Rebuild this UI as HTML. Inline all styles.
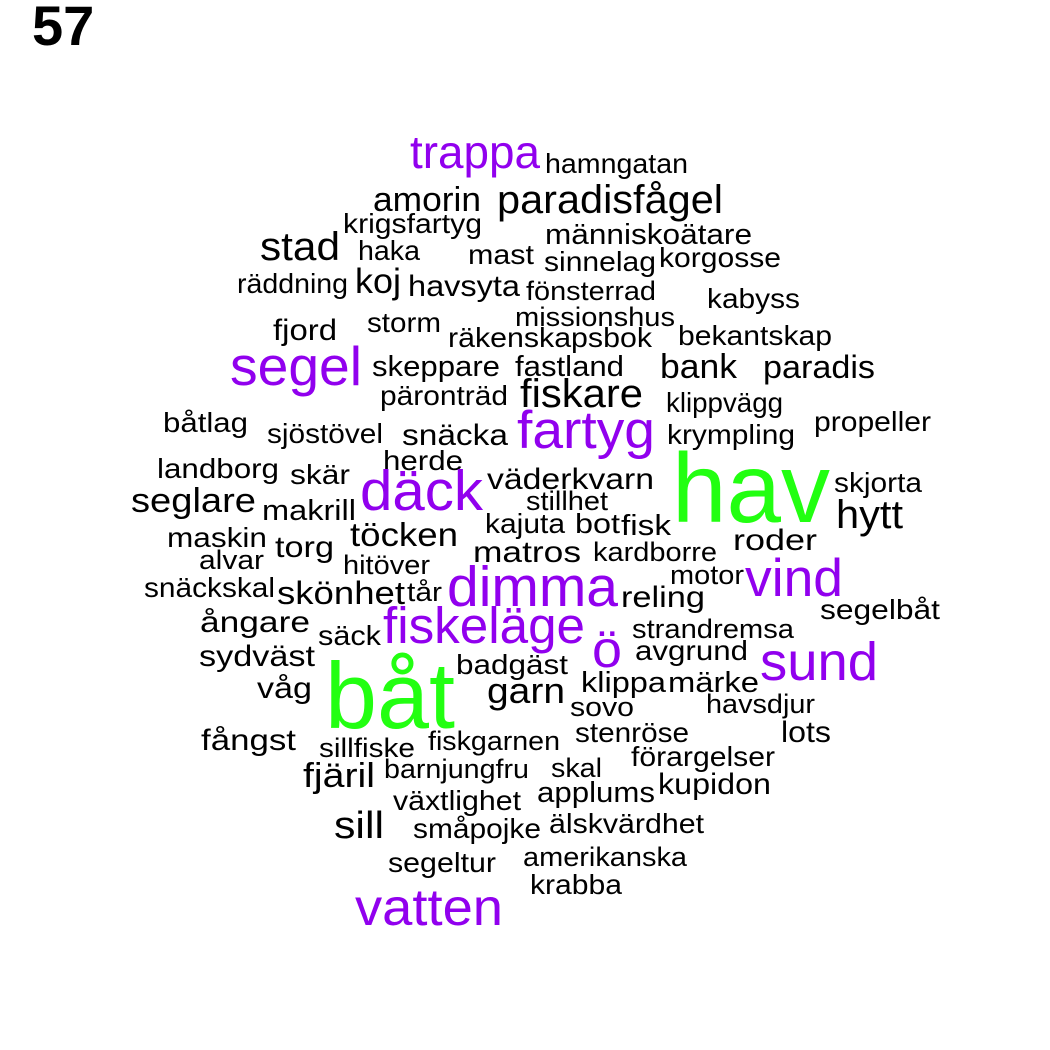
<!DOCTYPE html>
<html><head><meta charset="utf-8"><style>
html,body{margin:0;padding:0;background:#fff;}
svg{display:block;}
text{font-family:"Liberation Sans",Arial,sans-serif;fill:#000;}
.p{fill:#9100ee;}
.g{fill:#22ff11;}
</style></head><body>
<svg width="1050" height="1050" viewBox="0 0 1050 1050" xmlns="http://www.w3.org/2000/svg">
<text x="32" y="45" font-size="56" font-weight="bold">57</text>
<g>
<text class="p" x="410" y="168" font-size="46" textLength="130" lengthAdjust="spacingAndGlyphs">trappa</text>
<text x="545" y="173" font-size="28" textLength="143" lengthAdjust="spacingAndGlyphs">hamngatan</text>
<text x="373" y="211" font-size="34" textLength="108" lengthAdjust="spacingAndGlyphs">amorin</text>
<text x="497" y="213" font-size="40" textLength="226" lengthAdjust="spacingAndGlyphs">paradisfågel</text>
<text x="343" y="233" font-size="28" textLength="139" lengthAdjust="spacingAndGlyphs">krigsfartyg</text>
<text x="545" y="244" font-size="29" textLength="207" lengthAdjust="spacingAndGlyphs">människoätare</text>
<text x="260" y="260" font-size="40" textLength="80" lengthAdjust="spacingAndGlyphs">stad</text>
<text x="358" y="260" font-size="28" textLength="62" lengthAdjust="spacingAndGlyphs">haka</text>
<text x="468" y="264" font-size="28" textLength="66" lengthAdjust="spacingAndGlyphs">mast</text>
<text x="544" y="271" font-size="28" textLength="112" lengthAdjust="spacingAndGlyphs">sinnelag</text>
<text x="659" y="267" font-size="28" textLength="122" lengthAdjust="spacingAndGlyphs">korgosse</text>
<text x="237" y="293" font-size="28" textLength="111" lengthAdjust="spacingAndGlyphs">räddning</text>
<text x="355" y="293" font-size="35" textLength="46" lengthAdjust="spacingAndGlyphs">koj</text>
<text x="408" y="296" font-size="30" textLength="112" lengthAdjust="spacingAndGlyphs">havsyta</text>
<text x="526" y="300" font-size="27" textLength="130" lengthAdjust="spacingAndGlyphs">fönsterrad</text>
<text x="707" y="308" font-size="28" textLength="93" lengthAdjust="spacingAndGlyphs">kabyss</text>
<text x="515" y="326" font-size="27" textLength="160" lengthAdjust="spacingAndGlyphs">missionshus</text>
<text x="273" y="340" font-size="30" textLength="64" lengthAdjust="spacingAndGlyphs">fjord</text>
<text x="367" y="332" font-size="28" textLength="74" lengthAdjust="spacingAndGlyphs">storm</text>
<text x="448" y="347" font-size="28" textLength="204" lengthAdjust="spacingAndGlyphs">räkenskapsbok</text>
<text x="678" y="345" font-size="28" textLength="154" lengthAdjust="spacingAndGlyphs">bekantskap</text>
<text class="p" x="230" y="385" font-size="55" textLength="132" lengthAdjust="spacingAndGlyphs">segel</text>
<text x="372" y="376" font-size="29" textLength="128" lengthAdjust="spacingAndGlyphs">skeppare</text>
<text x="515" y="376" font-size="29" textLength="109" lengthAdjust="spacingAndGlyphs">fastland</text>
<text x="660" y="378" font-size="34" textLength="77" lengthAdjust="spacingAndGlyphs">bank</text>
<text x="763" y="378" font-size="32" textLength="112" lengthAdjust="spacingAndGlyphs">paradis</text>
<text x="380" y="405" font-size="28" textLength="128" lengthAdjust="spacingAndGlyphs">päronträd</text>
<text x="520" y="407" font-size="40" textLength="123" lengthAdjust="spacingAndGlyphs">fiskare</text>
<text x="666" y="412" font-size="28" textLength="117" lengthAdjust="spacingAndGlyphs">klippvägg</text>
<text x="163" y="432" font-size="28" textLength="85" lengthAdjust="spacingAndGlyphs">båtlag</text>
<text x="267" y="443" font-size="28" textLength="116" lengthAdjust="spacingAndGlyphs">sjöstövel</text>
<text x="402" y="445" font-size="30" textLength="106" lengthAdjust="spacingAndGlyphs">snäcka</text>
<text class="p" x="517" y="448" font-size="53" textLength="138" lengthAdjust="spacingAndGlyphs">fartyg</text>
<text x="667" y="444" font-size="28" textLength="128" lengthAdjust="spacingAndGlyphs">krympling</text>
<text x="814" y="431" font-size="28" textLength="117" lengthAdjust="spacingAndGlyphs">propeller</text>
<text x="157" y="478" font-size="28" textLength="122" lengthAdjust="spacingAndGlyphs">landborg</text>
<text x="290" y="484" font-size="28" textLength="60" lengthAdjust="spacingAndGlyphs">skär</text>
<text x="383" y="470" font-size="28" textLength="80" lengthAdjust="spacingAndGlyphs">herde</text>
<text class="p" x="360" y="510" font-size="57" textLength="123" lengthAdjust="spacingAndGlyphs">däck</text>
<text x="487" y="489" font-size="30" textLength="167" lengthAdjust="spacingAndGlyphs">väderkvarn</text>
<text class="g" x="672" y="522" font-size="98" textLength="158" lengthAdjust="spacingAndGlyphs">hav</text>
<text x="834" y="492" font-size="28" textLength="88" lengthAdjust="spacingAndGlyphs">skjorta</text>
<text x="526" y="510" font-size="27" textLength="82" lengthAdjust="spacingAndGlyphs">stillhet</text>
<text x="131" y="512" font-size="34" textLength="125" lengthAdjust="spacingAndGlyphs">seglare</text>
<text x="262" y="520" font-size="29" textLength="94" lengthAdjust="spacingAndGlyphs">makrill</text>
<text x="836" y="528" font-size="40" textLength="67" lengthAdjust="spacingAndGlyphs">hytt</text>
<text x="485" y="533" font-size="28" textLength="80" lengthAdjust="spacingAndGlyphs">kajuta</text>
<text x="575" y="533" font-size="28" textLength="45" lengthAdjust="spacingAndGlyphs">bot</text>
<text x="621" y="535" font-size="29" textLength="50" lengthAdjust="spacingAndGlyphs">fisk</text>
<text x="167" y="547" font-size="28" textLength="100" lengthAdjust="spacingAndGlyphs">maskin</text>
<text x="350" y="546" font-size="33" textLength="108" lengthAdjust="spacingAndGlyphs">töcken</text>
<text x="733" y="550" font-size="30" textLength="84" lengthAdjust="spacingAndGlyphs">roder</text>
<text x="473" y="562" font-size="30" textLength="108" lengthAdjust="spacingAndGlyphs">matros</text>
<text x="275" y="557" font-size="30" textLength="59" lengthAdjust="spacingAndGlyphs">torg</text>
<text x="199" y="569" font-size="27" textLength="65" lengthAdjust="spacingAndGlyphs">alvar</text>
<text x="343" y="574" font-size="27" textLength="87" lengthAdjust="spacingAndGlyphs">hitöver</text>
<text x="593" y="561" font-size="27" textLength="124" lengthAdjust="spacingAndGlyphs">kardborre</text>
<text class="p" x="447" y="606" font-size="57" textLength="171" lengthAdjust="spacingAndGlyphs">dimma</text>
<text x="670" y="584" font-size="27" textLength="74" lengthAdjust="spacingAndGlyphs">motor</text>
<text class="p" x="745" y="596" font-size="53" textLength="98" lengthAdjust="spacingAndGlyphs">vind</text>
<text x="144" y="597" font-size="28" textLength="131" lengthAdjust="spacingAndGlyphs">snäckskal</text>
<text x="277" y="604" font-size="32" textLength="128" lengthAdjust="spacingAndGlyphs">skönhet</text>
<text x="407" y="601" font-size="27" textLength="35" lengthAdjust="spacingAndGlyphs">tår</text>
<text x="621" y="607" font-size="30" textLength="84" lengthAdjust="spacingAndGlyphs">reling</text>
<text x="200" y="632" font-size="30" textLength="110" lengthAdjust="spacingAndGlyphs">ångare</text>
<text x="820" y="619" font-size="28" textLength="120" lengthAdjust="spacingAndGlyphs">segelbåt</text>
<text class="p" x="383" y="643" font-size="51" textLength="202" lengthAdjust="spacingAndGlyphs">fiskeläge</text>
<text x="318" y="645" font-size="28" textLength="63" lengthAdjust="spacingAndGlyphs">säck</text>
<text x="632" y="638" font-size="27" textLength="162" lengthAdjust="spacingAndGlyphs">strandremsa</text>
<text class="p" x="592" y="667" font-size="52" textLength="30" lengthAdjust="spacingAndGlyphs">ö</text>
<text x="635" y="660" font-size="28" textLength="113" lengthAdjust="spacingAndGlyphs">avgrund</text>
<text x="199" y="666" font-size="30" textLength="116" lengthAdjust="spacingAndGlyphs">sydväst</text>
<text class="p" x="760" y="680" font-size="54" textLength="118" lengthAdjust="spacingAndGlyphs">sund</text>
<text x="456" y="674" font-size="28" textLength="112" lengthAdjust="spacingAndGlyphs">badgäst</text>
<text x="257" y="698" font-size="30" textLength="55" lengthAdjust="spacingAndGlyphs">våg</text>
<text x="581" y="692" font-size="29" textLength="85" lengthAdjust="spacingAndGlyphs">klippa</text>
<text x="668" y="692" font-size="29" textLength="91" lengthAdjust="spacingAndGlyphs">märke</text>
<text x="487" y="703" font-size="36" textLength="78" lengthAdjust="spacingAndGlyphs">garn</text>
<text class="g" x="325" y="728" font-size="94" textLength="130" lengthAdjust="spacingAndGlyphs">båt</text>
<text x="570" y="716" font-size="27" textLength="64" lengthAdjust="spacingAndGlyphs">sovo</text>
<text x="706" y="713" font-size="27" textLength="109" lengthAdjust="spacingAndGlyphs">havsdjur</text>
<text x="201" y="750" font-size="30" textLength="95" lengthAdjust="spacingAndGlyphs">fångst</text>
<text x="781" y="742" font-size="30" textLength="50" lengthAdjust="spacingAndGlyphs">lots</text>
<text x="575" y="742" font-size="28" textLength="114" lengthAdjust="spacingAndGlyphs">stenröse</text>
<text x="428" y="750" font-size="27" textLength="132" lengthAdjust="spacingAndGlyphs">fiskgarnen</text>
<text x="319" y="757" font-size="27" textLength="96" lengthAdjust="spacingAndGlyphs">sillfiske</text>
<text x="631" y="766" font-size="28" textLength="144" lengthAdjust="spacingAndGlyphs">förargelser</text>
<text x="384" y="778" font-size="27" textLength="145" lengthAdjust="spacingAndGlyphs">barnjungfru</text>
<text x="551" y="777" font-size="27" textLength="51" lengthAdjust="spacingAndGlyphs">skal</text>
<text x="303" y="787" font-size="34" textLength="72" lengthAdjust="spacingAndGlyphs">fjäril</text>
<text x="658" y="794" font-size="30" textLength="113" lengthAdjust="spacingAndGlyphs">kupidon</text>
<text x="537" y="802" font-size="29" textLength="118" lengthAdjust="spacingAndGlyphs">applums</text>
<text x="393" y="810" font-size="28" textLength="128" lengthAdjust="spacingAndGlyphs">växtlighet</text>
<text x="334" y="838" font-size="38" textLength="50" lengthAdjust="spacingAndGlyphs">sill</text>
<text x="413" y="838" font-size="28" textLength="128" lengthAdjust="spacingAndGlyphs">småpojke</text>
<text x="549" y="833" font-size="28" textLength="155" lengthAdjust="spacingAndGlyphs">älskvärdhet</text>
<text x="523" y="866" font-size="27" textLength="164" lengthAdjust="spacingAndGlyphs">amerikanska</text>
<text x="388" y="872" font-size="28" textLength="108" lengthAdjust="spacingAndGlyphs">segeltur</text>
<text x="530" y="894" font-size="28" textLength="92" lengthAdjust="spacingAndGlyphs">krabba</text>
<text class="p" x="355" y="925" font-size="52" textLength="148" lengthAdjust="spacingAndGlyphs">vatten</text>
</g>
</svg>
</body></html>
